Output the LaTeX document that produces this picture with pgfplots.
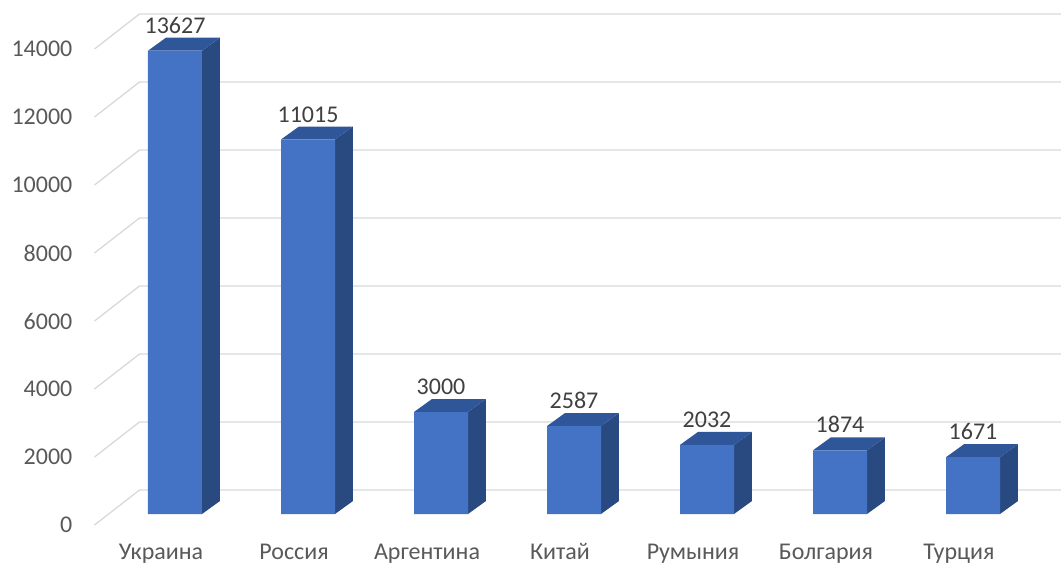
\documentclass[border=0pt]{standalone}
\usepackage{pgfplots}
\pgfplotsset{compat=1.18}
\usepackage{pgfplotstable}
\usepackage{fontspec}
\setmainfont{Carlito}
\definecolor{frontc}{HTML}{4472C4}
\definecolor{sidec}{HTML}{294A80}
\definecolor{topc}{HTML}{30569A}
\definecolor{gridc}{HTML}{D9D9D9}
\definecolor{tickc}{HTML}{595959}
\definecolor{labc}{HTML}{404040}
\pgfplotstableread{
idx value
0 13627
1 11015
2 3000
3 2587
4 2032
5 1874
6 1671
}\datatable
\begin{document}
\begin{tikzpicture}
\useasboundingbox (-175pt,-52pt) rectangle (887pt,514pt);
\begin{axis}[
  x=133pt, y=0.034pt, anchor=origin,
  xmin=-0.605, xmax=6.66, ymin=-323, ymax=14706,
  clip=false,
  axis line style={draw=none},
  major tick length=0pt,
  tick style={draw=none},
  scaled y ticks=false,
  /pgf/number format/.cd, 1000 sep={}, assume math mode=true,
  /pgfplots/.cd,
  ytick={0,2000,4000,6000,8000,10000,12000,14000},
  xtick={0,1,2,3,4,5,6},
  xticklabels={Украина,Россия,Аргентина,Китай,Румыния,Болгария,Турция},
  ticklabel style={font=\fontsize{24}{28.8}\selectfont, text=tickc},
  yticklabel style={inner sep=0pt, xshift=-22pt, yshift=-11pt},
  xticklabel style={anchor=base, inner sep=0pt, yshift=-35pt, xshift=-14pt},
]
% gridlines (floor diagonal + back wall)
\addplot[gridc, line width=1.3pt, forget plot] coordinates {(-0.605,-323) (-0.267,706) (6.66,706)};
\addplot[gridc, line width=1.3pt, forget plot] coordinates {(-0.605,1677) (-0.267,2706) (6.66,2706)};
\addplot[gridc, line width=1.3pt, forget plot] coordinates {(-0.605,3677) (-0.267,4706) (6.66,4706)};
\addplot[gridc, line width=1.3pt, forget plot] coordinates {(-0.605,5677) (-0.267,6706) (6.66,6706)};
\addplot[gridc, line width=1.3pt, forget plot] coordinates {(-0.605,7677) (-0.267,8706) (6.66,8706)};
\addplot[gridc, line width=1.3pt, forget plot] coordinates {(-0.605,9677) (-0.267,10706) (6.66,10706)};
\addplot[gridc, line width=1.3pt, forget plot] coordinates {(-0.605,11677) (-0.267,12706) (6.66,12706)};
\addplot[gridc, line width=1.3pt, forget plot] coordinates {(-0.605,13677) (-0.267,14706) (6.66,14706)};
% side and top faces
\foreach \i/\v in {0/13627,1/11015,2/3000,3/2587,4/2032,5/1874,6/1671}{
  \pgfmathsetmacro\xa{\i+0.203}
  \pgfmathsetmacro\xb{\i+0.338}
  \pgfmathsetmacro\xc{\i-0.203}
  \pgfmathsetmacro\xd{\i-0.068}
  \pgfmathsetmacro\vt{\v+382}
  \edef\temp{\noexpand\addplot[fill=sidec, draw=none, mark=none, forget plot] coordinates {(\xa,0) (\xb,382) (\xb,\vt) (\xa,\v)};
    \noexpand\addplot[fill=topc, draw=none, mark=none, forget plot] coordinates {(\xc,\v) (\xa,\v) (\xb,\vt) (\xd,\vt)};}
  \temp
}
% front faces
\addplot[ybar, bar width=0.406, fill=frontc, draw=none,
  nodes near coords,
  every node near coord/.append style={anchor=south, inner sep=0pt, yshift=17pt,
    font=\fontsize{24}{28.8}\selectfont, text=labc}]
  table[x=idx, y=value]{\datatable};
\end{axis}
\end{tikzpicture}
\end{document}
